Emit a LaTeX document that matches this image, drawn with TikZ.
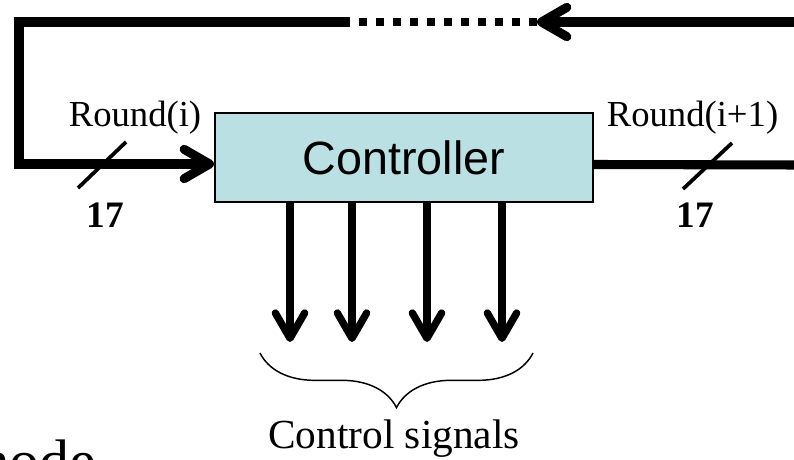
\documentclass[tikz,border=0pt]{standalone}
\usepackage{fontspec}
\setmainfont{Liberation Serif}
\setsansfont{Liberation Sans}
\usetikzlibrary{arrows.meta,calc,decorations.pathreplacing}
\definecolor{CtrlFill}{HTML}{BBE0E3}

\begin{document}
\begin{tikzpicture}[x=0.75pt,y=-0.75pt,
  ctrlbox/.style={draw=black,line width=1.5pt,fill=CtrlFill,minimum width=283.5pt,minimum height=66.75pt,font=\sffamily\fontsize{35}{40}\selectfont},
  bus/.style={line width=6.8pt,line join=miter},
  dotbus/.style={line width=6pt,dash pattern=on 6pt off 6.75pt},
  arrow/.style={-{Straight Barb[length=19pt,width=22pt,round]}},
  sig/.style={line width=5.5pt,arrow},
  tick/.style={line width=2.8pt},
  lbl/.style={font=\fontsize{27.5}{30}\selectfont,inner sep=0pt,anchor=base},
  num/.style={font=\bfseries\fontsize{28}{30}\selectfont,inner sep=0pt,anchor=base},
  brace/.style={decorate,decoration={brace,mirror,amplitude=41pt},line width=1.1pt}
]
\useasboundingbox (0,0) rectangle (794,460);
\clip (0,0) rectangle (794,460);
\node[ctrlbox] (ctrl) at (404,157.5) {Controller};
\coordinate (inR) at (800,22);
\coordinate (dotR) at (537,22);
\coordinate (dotL) at (350,22);
\coordinate (cornerL) at (19,22);
\coordinate (inL) at ($(ctrl.west)+(0,6.5)$);
\coordinate (outL) at ($(ctrl.east)+(0,7)$);
\coordinate (outR) at (800,165);
% feedback loop
\draw[bus,arrow] (inR) -- (dotR);
\draw[dotbus] (dotR) -- (dotL);
\draw[bus,arrow] (dotL) -- (cornerL) |- (inL);
\draw[bus] (outL) -- (outR);
% bus widths
\draw[tick] (78,188) -- (126,142);
\draw[tick] (683,189) -- (732,143);
\node[lbl] (rin) at (135,127) {Round(i)};
\node[lbl] (rout) at (692.5,127) {Round(i+1)};
\node[num] (win) at (105,228) {17};
\node[num] (wout) at (695,228) {17};
% control lines
\foreach \x in {290,352,427,502}
  \draw[sig] (ctrl.south -| \x,0) -- (\x,342);
\coordinate (brL) at (260,353);
\coordinate (brR) at (533,353);
\draw[brace] (brL) -- (brR);
\node[lbl,font=\fontsize{31}{34}\selectfont] (sigs) at (394,448) {Control signals};
\node[font=\fontsize{45}{50}\selectfont,inner sep=0pt,anchor=base west] (mode) at (-37,481) {mode};
\end{tikzpicture}
\end{document}
